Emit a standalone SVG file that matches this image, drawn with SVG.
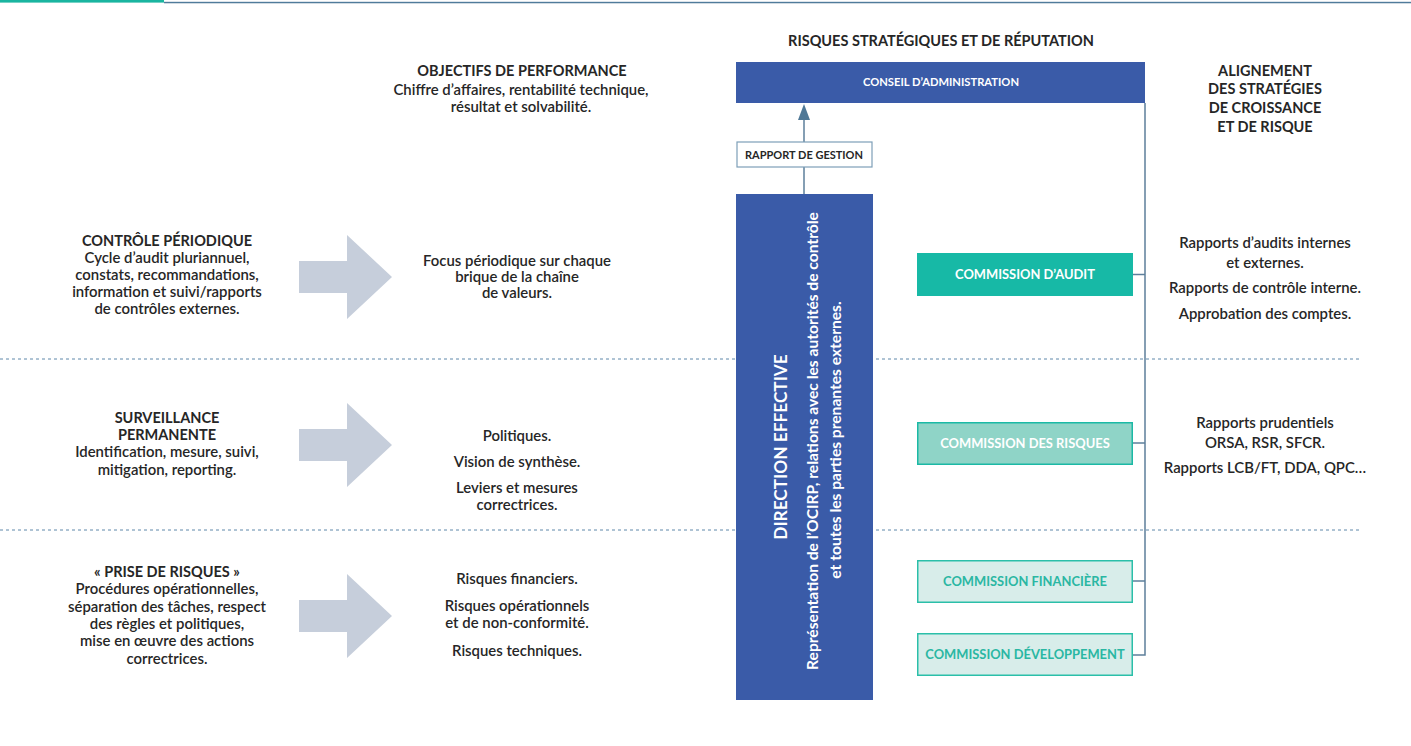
<svg xmlns="http://www.w3.org/2000/svg" width="1411" height="746" viewBox="0 0 1411 746">
<style>
text{font-family:Lato,"Liberation Sans",sans-serif;fill:#262626;text-anchor:middle}
.h{font-weight:700;font-size:14.5px}
.b{font-weight:600;font-size:14.9px}
.w{fill:#fff;font-weight:700}
.c{font-size:12.9px}
.t{fill:#2ab7a3;font-weight:700;font-size:12.9px}
.arr{fill:#c6cedb}
.dash{stroke:#5f88aa;stroke-width:1;stroke-dasharray:3 3;fill:none}
.con{stroke:#5d7f9b;stroke-width:1.5;fill:none}
</style>
<defs>
<marker id="ah" viewBox="0 0 12 16" refX="6" refY="0" markerWidth="12" markerHeight="16" markerUnits="userSpaceOnUse" orient="auto-start-reverse">
<path d="M0,16 L6,0 L12,16 Z" fill="#4f7896"/>
</marker>
</defs>
<g id="topbar">
<rect x="164" y="1.8" width="1247" height="1.4" fill="#4f7b9b"/>
<rect x="164" y="3.2" width="1247" height="0.8" fill="#cdd7e0"/>
<rect x="0" y="0" width="164" height="2.6" fill="#1ab5a0"/>
</g>
<g id="separators">
<line class="dash" x1="0" y1="359" x2="1362" y2="359"/>
<line class="dash" x1="0" y1="530" x2="1362" y2="530"/>
</g>
<g id="connectors">
<line class="con" x1="804" y1="194" x2="804" y2="167"/>
<line class="con" x1="804" y1="142" x2="804" y2="120"/>
<path d="M798,120 L804,104 L810,120 Z" fill="#4f7896"/>
<polyline class="con" points="1133,274.5 1145,274.5"/>
<polyline class="con" points="1133,443 1145,443"/>
<polyline class="con" points="1133,581 1145,581"/>
<polyline class="con" points="1133,655 1145,655 1145,103"/>
</g>
<g id="title-risques">
<text class="h" x="941" y="46">RISQUES STRATÉGIQUES ET DE RÉPUTATION</text>
</g>
<g id="conseil">
<rect x="736" y="62" width="409" height="41" fill="#3a5ba8"/>
<text class="w" x="941" y="86" font-size="11.2">CONSEIL D’ADMINISTRATION</text>
</g>
<g id="rapport-gestion">
<rect x="737" y="142" width="135" height="25" fill="#fff" stroke="#7d9fb8" stroke-width="1.2"/>
<text x="804" y="158.5" font-size="11" font-weight="700">RAPPORT DE GESTION</text>
</g>
<g id="direction">
<rect x="736" y="194" width="137" height="506" fill="#3a5ba8"/>
<text class="w" transform="translate(786.5,447) rotate(-90)" x="0" y="0" font-size="17.3">DIRECTION EFFECTIVE</text>
<text class="w" transform="translate(817.5,441) rotate(-90)" x="0" y="0" font-size="15.6">Représentation de l’OCIRP, relations avec les autorités de contrôle</text>
<text class="w" transform="translate(840.5,440) rotate(-90)" x="0" y="0" font-size="15.6">et toutes les parties prenantes externes.</text>
</g>
<g id="objectifs">
<text class="h" x="522" y="75.5">OBJECTIFS DE PERFORMANCE</text>
<text class="b" x="521" y="95">Chiffre d’affaires, rentabilité technique,</text>
<text class="b" x="521" y="111.5">résultat et solvabilité.</text>
</g>
<g id="alignement">
<text class="h" x="1265" y="75.5">ALIGNEMENT</text>
<text class="h" x="1265" y="94">DES STRATÉGIES</text>
<text class="h" x="1265" y="113">DE CROISSANCE</text>
<text class="h" x="1265" y="131.5">ET DE RISQUE</text>
</g>
<g id="controle-periodique">
<text class="h" x="167" y="246">CONTRÔLE PÉRIODIQUE</text>
<text class="b" x="167" y="263">Cycle d’audit pluriannuel,</text>
<text class="b" x="167" y="280">constats, recommandations,</text>
<text class="b" x="167" y="297">information et suivi/rapports</text>
<text class="b" x="167" y="314">de contrôles externes.</text>
</g>
<g id="arrow1"><path class="arr" d="M299,261 H347 V235 L392,277 L347,319 V293 H299 Z"/></g>
<g id="focus">
<text class="b" x="517" y="266">Focus périodique sur chaque</text>
<text class="b" x="517" y="282">brique de la chaîne</text>
<text class="b" x="517" y="297.5">de valeurs.</text>
</g>
<g id="commission-audit">
<rect x="917" y="253" width="216" height="43" fill="#17b9a6"/>
<text class="w c" x="1025" y="279">COMMISSION D’AUDIT</text>
</g>
<g id="rapports-audit">
<text class="b" x="1265" y="247.5">Rapports d’audits internes</text>
<text class="b" x="1265" y="267.5">et externes.</text>
<text class="b" x="1265" y="293">Rapports de contrôle interne.</text>
<text class="b" x="1265" y="319">Approbation des comptes.</text>
</g>
<g id="surveillance">
<text class="h" x="167" y="423">SURVEILLANCE</text>
<text class="h" x="167" y="440">PERMANENTE</text>
<text class="b" x="167" y="457">Identification, mesure, suivi,</text>
<text class="b" x="167" y="474.5">mitigation, reporting.</text>
</g>
<g id="arrow2"><path class="arr" d="M299,429 H347 V403 L392,445 L347,487 V461 H299 Z"/></g>
<g id="politiques">
<text class="b" x="517" y="441">Politiques.</text>
<text class="b" x="517" y="467">Vision de synthèse.</text>
<text class="b" x="517" y="493">Leviers et mesures</text>
<text class="b" x="517" y="510">correctrices.</text>
</g>
<g id="commission-risques">
<rect x="917.75" y="422.75" width="214.5" height="41.5" fill="#8fd4c7" stroke="#1bb9a5" stroke-width="1.5"/>
<text class="w c" x="1025" y="448">COMMISSION DES RISQUES</text>
</g>
<g id="rapports-prudentiels">
<text class="b" x="1265" y="427.5">Rapports prudentiels</text>
<text class="b" x="1265" y="447.5">ORSA, RSR, SFCR.</text>
<text class="b" x="1265" y="473">Rapports LCB/FT, DDA, QPC…</text>
</g>
<g id="prise-risques">
<text class="h" x="167" y="577">« PRISE DE RISQUES »</text>
<text class="b" x="167" y="594">Procédures opérationnelles,</text>
<text class="b" x="167" y="611.5">séparation des tâches, respect</text>
<text class="b" x="167" y="629">des règles et politiques,</text>
<text class="b" x="167" y="646">mise en œuvre des actions</text>
<text class="b" x="167" y="663.5">correctrices.</text>
</g>
<g id="arrow3"><path class="arr" d="M299,600 H347 V574 L392,616 L347,658 V632 H299 Z"/></g>
<g id="risques-list">
<text class="b" x="517" y="584">Risques financiers.</text>
<text class="b" x="517" y="611">Risques opérationnels</text>
<text class="b" x="517" y="628">et de non-conformité.</text>
<text class="b" x="517" y="656">Risques techniques.</text>
</g>
<g id="commission-financiere">
<rect x="917.75" y="560.75" width="214.5" height="41.5" fill="#d8edea" stroke="#2bbfa9" stroke-width="1.5"/>
<text class="t" x="1025" y="586">COMMISSION FINANCIÈRE</text>
</g>
<g id="commission-developpement">
<rect x="917.75" y="633.75" width="214.5" height="41.5" fill="#d8edea" stroke="#2bbfa9" stroke-width="1.5"/>
<text class="t" x="1025" y="659">COMMISSION DÉVELOPPEMENT</text>
</g>
</svg>
